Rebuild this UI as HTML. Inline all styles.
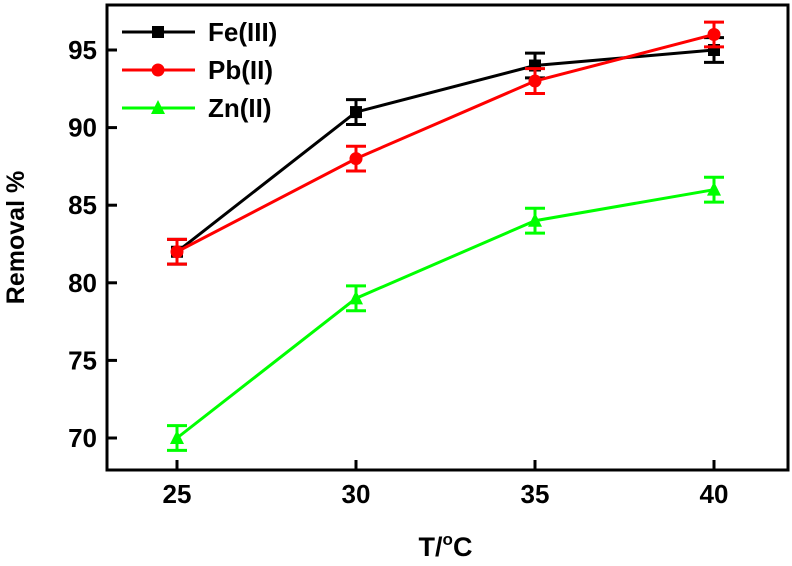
<!DOCTYPE html>
<html><head><meta charset="utf-8"><style>
body{margin:0;background:#fff}
svg text{font-family:"Liberation Sans Narrow","Liberation Sans",Arial,sans-serif;font-weight:bold}
</style></head><body>
<svg id="chart" width="792" height="561"></svg>
<script>
const categories=[25,30,35,40];
const feValues=[82,91,94,95];
const pbValues=[82,88,93,96];
const znValues=[70,79,84,86];
const errValues=[0.8,0.8,0.8,0.8];
const yTicks=[70,75,80,85,90,95];
const xTicks=[25,30,35,40];
const NS="http://www.w3.org/2000/svg";
const svg=document.getElementById('chart');
const L=107,R=788,T=5,B=470;
function xs(v){return 177+(v-25)*(714-177)/15;}
function ys(v){return 438+(v-70)*(50-438)/25;}
function mk(tag,attrs,parent){const e=document.createElementNS(NS,tag);for(const k in attrs)e.setAttribute(k,attrs[k]);(parent||svg).appendChild(e);return e;}
const frame=mk('rect',{x:L,y:T,width:R-L,height:B-T,fill:'none',stroke:'#000','stroke-width':3});


yTicks.forEach(v=>{const y=ys(v);
const t=mk('line',{x1:L,x2:L+10,y1:y,y2:y,stroke:'#000','stroke-width':3});


const tx=mk('text',{x:L-10,y:y+9,'text-anchor':'end','font-size':26});tx.textContent=v;

});
xTicks.forEach(v=>{const x=xs(v);
const t=mk('line',{x1:x,x2:x,y1:B,y2:B-10,stroke:'#000','stroke-width':3});


const tx=mk('text',{x:x,y:B+33,'text-anchor':'middle','font-size':26});tx.textContent=v;

});
const yt=mk('text',{x:0,y:0,'text-anchor':'middle','font-size':25,transform:'translate(24,'+(T+B)/2+') rotate(-90)'});yt.textContent='Removal %';


const xt=mk('text',{x:(L+R)/2-2,y:556,'text-anchor':'middle','font-size':27});
xt.innerHTML='T/<tspan dy="-11" font-size="17">o</tspan><tspan dy="11">C</tspan>';


function marker(type,x,y,color,g){
if(type==='sq')return mk('rect',{x:x-6,y:y-6,width:12,height:12,fill:color},g);
if(type==='ci')return mk('circle',{cx:x,cy:y,r:6.5,fill:color},g);
return mk('polygon',{points:`${x},${y-8} ${x-7},${y+6} ${x+7},${y+6}`,fill:color},g);}
function series(name,vals,color,type){
const g=mk('g',{});


mk('polyline',{points:vals.map((v,i)=>xs(categories[i])+','+ys(v)).join(' '),fill:'none',stroke:color,'stroke-width':3},g);
vals.forEach((v,i)=>{const x=xs(categories[i]),e=errValues[i];
const eb=mk('path',{d:`M${x-10},${ys(v+e)}H${x+10}M${x},${ys(v+e)}V${ys(v-e)}M${x-10},${ys(v-e)}H${x+10}`,stroke:color,'stroke-width':3,fill:'none'},g);


const m=marker(type,x,ys(v),color,g);

});}
series('zn',znValues,'#00ff00','tr');
series('fe',feValues,'#000000','sq');
series('pb',pbValues,'#ff0000','ci');
[['Fe(III)','#000','sq',32],['Pb(II)','#ff0000','ci',70],['Zn(II)','#00ff00','tr',108]].forEach(([n,c,t,y])=>{
const g=mk('g',{});


mk('line',{x1:122,x2:195,y1:y,y2:y,stroke:c,'stroke-width':3},g);
marker(t,158,y,c,g);
const tx=mk('text',{x:208,y:y+9,'font-size':26},g);tx.textContent=n;});
</script>
</body></html>
